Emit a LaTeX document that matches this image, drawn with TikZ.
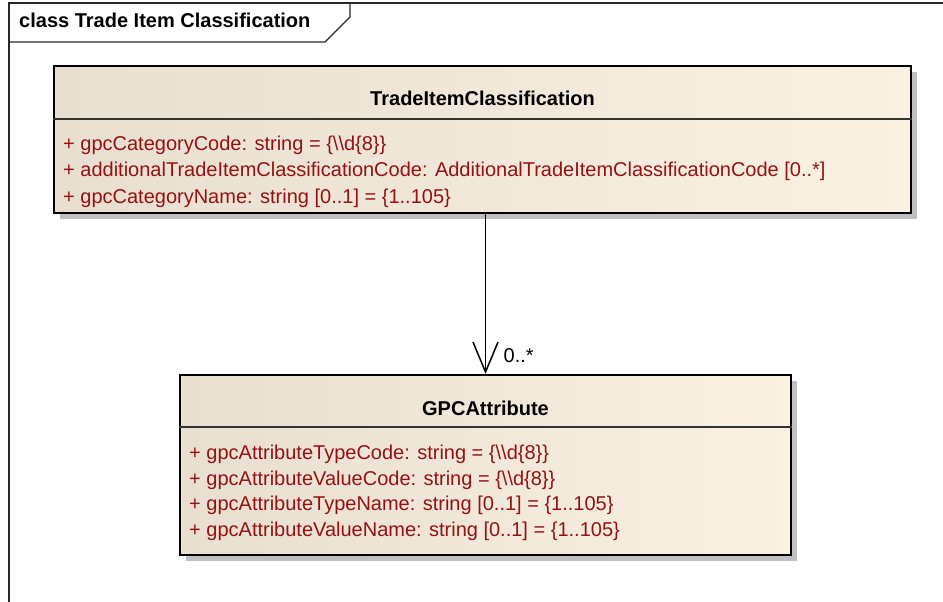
\documentclass[tikz,border=0pt]{standalone}
\usepackage{fontspec}
\setmainfont{Liberation Sans}
\usetikzlibrary{arrows.meta, positioning, shadows, calc}
\definecolor{umlLeft}{RGB}{232,223,209}
\definecolor{umlRight}{RGB}{251,241,227}
\definecolor{attrRed}{RGB}{150,18,18}
\definecolor{shadowGray}{RGB}{192,192,192}
\definecolor{frameGray}{RGB}{40,40,40}
\tikzset{
  frameline/.style={draw=frameGray, line width=1.3pt},
  titletext/.style={font=\fontsize{20}{24}\selectfont\bfseries, inner sep=0pt},
  classbox/.style={
    rectangle, draw=black, line width=2pt,
    left color=umlLeft, right color=umlRight,
    drop shadow={shadow xshift=6pt, shadow yshift=-6pt, fill=shadowGray, opacity=1},
    inner sep=0pt
  },
  sepline/.style={draw=black!80, line width=1.3pt},
  classname/.style={font=\fontsize{20}{24}\selectfont\bfseries, inner sep=0pt},
  attr/.style={font=\fontsize{20}{24}\selectfont, text=attrRed, inner sep=0pt},
  assoc/.style={-{Straight Barb[length=30pt, width=25pt, line width=1.5pt]}, black, line width=1.5pt},
  mult/.style={font=\fontsize{20}{24}\selectfont, inner sep=0pt}
}
\begin{document}
\begin{tikzpicture}[x=1pt,y=-1pt]
\useasboundingbox (0,0) rectangle (943,602);
% frame and title tab
\draw[frameline] (9,602) -- (9,3) -- (943,3);
\draw[frameline] (9,42) -- (325,42) -- (350,17) -- (350,3);
\node[titletext, anchor=base west] (frameTitle) at (19,28) {class Trade Item Classification};
% TradeItemClassification
\node[classbox, anchor=north west, minimum width=857, minimum height=147] (tic) at (53,65) {};
\coordinate (ticSep) at (53,119);
\draw[sepline] (ticSep) -- (ticSep -| tic.east);
\node[classname, anchor=base] (ticName) at (tic.north |- 0,106) {TradeItemClassification};
\node[attr, anchor=base west] (ticA1) at (63,150) {+ gpcCategoryCode: string = \{\textbackslash\textbackslash d\{8\}\}};
\node[attr, anchor=base west] (ticA2) at (63,176.5) {+ additionalTradeItemClassificationCode: AdditionalTradeItemClassificationCode [0..*]};
\node[attr, anchor=base west] (ticA3) at (63,203) {+ gpcCategoryName: string [0..1] = \{1..105\}};
% GPCAttribute
\node[classbox, anchor=north west, minimum width=611, minimum height=180] (gpc) at (179,374) {};
\coordinate (gpcSep) at (179,427);
\draw[sepline] (gpcSep) -- (gpcSep -| gpc.east);
\node[classname, anchor=base] (gpcName) at (gpc.north |- 0,415) {GPCAttribute};
\node[attr, anchor=base west] (gpcA1) at (189,459) {+ gpcAttributeTypeCode: string = \{\textbackslash\textbackslash d\{8\}\}};
\node[attr, anchor=base west] (gpcA2) at (189,485) {+ gpcAttributeValueCode: string = \{\textbackslash\textbackslash d\{8\}\}};
\node[attr, anchor=base west] (gpcA3) at (189,510.5) {+ gpcAttributeTypeName: string [0..1] = \{1..105\}};
\node[attr, anchor=base west] (gpcA4) at (189,536) {+ gpcAttributeValueName: string [0..1] = \{1..105\}};
% association
\draw[assoc] (gpc.north |- tic.south) -- (gpc.north);
\node[mult, anchor=base west] (gpcMult) at ($(gpc.north)+(18,-12)$) {0..*};
\end{tikzpicture}
\end{document}
